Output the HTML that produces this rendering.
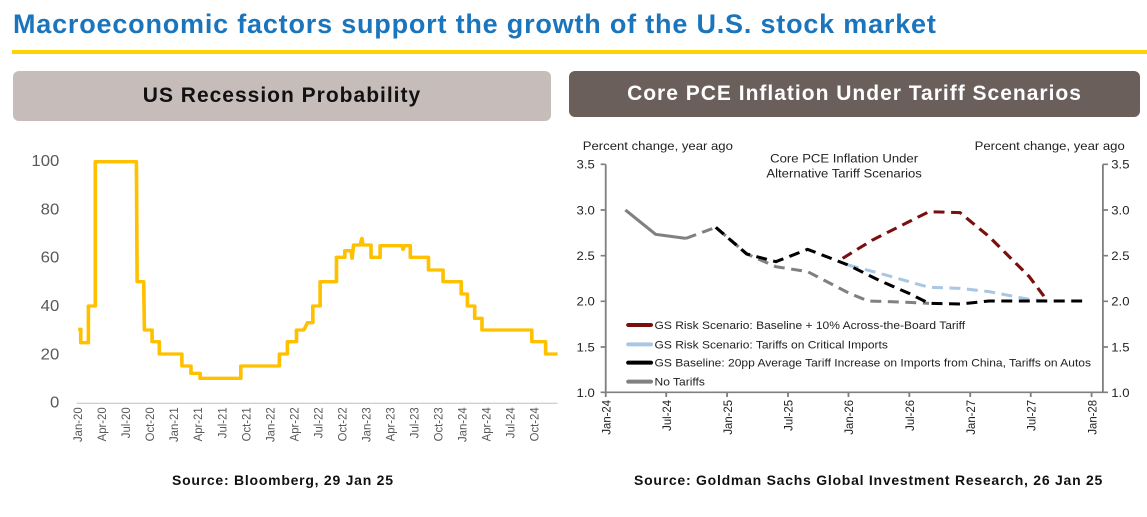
<!DOCTYPE html>
<html><head><meta charset="utf-8"><style>
body{margin:0;width:1147px;height:517px;background:#fff;position:relative;overflow:hidden;font-family:"Liberation Sans",sans-serif}
.h{position:absolute;left:13px;top:9px;font-size:27px;font-weight:bold;color:#1a75bc;letter-spacing:0.8px}
.yl{position:absolute;left:12px;top:50px;width:1135px;height:4px;background:#ffd200}
.box{position:absolute;border-radius:6px;font-weight:bold;font-size:21px;letter-spacing:1px;text-align:center}
.src{position:absolute;top:472px;font-size:14px;font-weight:bold;color:#111;letter-spacing:0.75px}
svg{position:absolute}
</style></head><body>
<div class="h">Macroeconomic factors support the growth of the U.S. stock market</div>
<div class="yl"></div>
<div class="box" style="left:13px;top:71px;width:538px;height:50px;line-height:50px;background:#c6bcba;color:#111">US Recession Probability</div>
<div class="box" style="left:569px;top:71px;width:571px;height:46px;line-height:46px;background:#6b5f5c;color:#fff">Core PCE Inflation Under Tariff Scenarios</div>

<svg style="left:0;top:130px" width="570" height="330" viewBox="0 0 1567 990" preserveAspectRatio="none">
<g font-family="Liberation Sans, sans-serif" fill="#595959" font-size="46" text-anchor="end">
<text x="163" y="108">100</text><text x="163" y="253">80</text><text x="163" y="398">60</text><text x="163" y="543">40</text><text x="163" y="688">20</text><text x="163" y="833">0</text>
</g>
<line x1="211" y1="820" x2="1533" y2="820" stroke="#d0d0d0" stroke-width="4"/>
<g font-family="Liberation Sans, sans-serif" fill="#595959" font-size="34" text-anchor="end">
<text transform="translate(226,832) rotate(-90)">Jan-20</text>
<text transform="translate(292,832) rotate(-90)">Apr-20</text>
<text transform="translate(358,832) rotate(-90)">Jul-20</text>
<text transform="translate(424,832) rotate(-90)">Oct-20</text>
<text transform="translate(490,832) rotate(-90)">Jan-21</text>
<text transform="translate(556,832) rotate(-90)">Apr-21</text>
<text transform="translate(622,832) rotate(-90)">Jul-21</text>
<text transform="translate(688,832) rotate(-90)">Oct-21</text>
<text transform="translate(754,832) rotate(-90)">Jan-22</text>
<text transform="translate(820,832) rotate(-90)">Apr-22</text>
<text transform="translate(886,832) rotate(-90)">Jul-22</text>
<text transform="translate(952,832) rotate(-90)">Oct-22</text>
<text transform="translate(1018,832) rotate(-90)">Jan-23</text>
<text transform="translate(1084,832) rotate(-90)">Apr-23</text>
<text transform="translate(1150,832) rotate(-90)">Jul-23</text>
<text transform="translate(1216,832) rotate(-90)">Oct-23</text>
<text transform="translate(1282,832) rotate(-90)">Jan-24</text>
<text transform="translate(1348,832) rotate(-90)">Apr-24</text>
<text transform="translate(1414,832) rotate(-90)">Jul-24</text>
<text transform="translate(1480,832) rotate(-90)">Oct-24</text>
</g>
<polyline fill="none" stroke="#ffc000" stroke-width="10" stroke-linejoin="round" points="215,598 222,598 222,638 243,638 243,528 262,528 262,95 375,95 377,455 395,455 397,600 418,600 418,635 438,635 438,672 500,672 500,708 525,708 525,730 550,730 550,745 662,745 662,708 768,708 768,672 790,672 790,635 815,635 815,600 835,600 840,590 845,578 860,578 860,528 880,528 880,455 925,455 925,382 948,382 948,362 965,362 968,385 972,345 990,345 995,325 998,345 1020,345 1020,382 1045,382 1045,347 1105,347 1108,358 1112,347 1128,347 1128,382 1178,382 1178,420 1218,420 1218,455 1268,455 1268,492 1285,492 1285,528 1305,528 1305,565 1325,565 1325,600 1462,600 1462,635 1500,635 1500,672 1533,672"/>
</svg>

<svg style="left:570px;top:130px" width="577" height="330" viewBox="0 0 1583 990" preserveAspectRatio="none">
<g font-family="Liberation Sans, sans-serif" fill="#222" font-size="36">
<text x="35" y="60">Percent change, year ago</text>
<text x="1522" y="60" text-anchor="end">Percent change, year ago</text>
<text x="752" y="97" text-anchor="middle">Core PCE Inflation Under</text>
<text x="752" y="143" text-anchor="middle">Alternative Tariff Scenarios</text>
<g text-anchor="end"><text x="68" y="116">3.5</text><text x="68" y="253">3.0</text><text x="68" y="390">2.5</text><text x="68" y="527">2.0</text><text x="68" y="664">1.5</text><text x="68" y="801">1.0</text></g>
<g><text x="1485" y="116">3.5</text><text x="1485" y="253">3.0</text><text x="1485" y="390">2.5</text><text x="1485" y="527">2.0</text><text x="1485" y="664">1.5</text><text x="1485" y="801">1.0</text></g>
<g text-anchor="end" font-size="34">
<text transform="translate(111,810) rotate(-90)">Jan-24</text>
<text transform="translate(277,810) rotate(-90)">Jul-24</text>
<text transform="translate(444,810) rotate(-90)">Jan-25</text>
<text transform="translate(611,810) rotate(-90)">Jul-25</text>
<text transform="translate(777,810) rotate(-90)">Jan-26</text>
<text transform="translate(944,810) rotate(-90)">Jul-26</text>
<text transform="translate(1111,810) rotate(-90)">Jan-27</text>
<text transform="translate(1277,810) rotate(-90)">Jul-27</text>
<text transform="translate(1444,810) rotate(-90)">Jan-28</text>
</g>
</g>
<g stroke="#7f7f7f" stroke-width="5" fill="none">
<polyline points="98,103 98,787 1462,787 1462,103"/>
<path d="M84,103h14M84,240h14M84,377h14M84,514h14M84,651h14M84,787h14M1462,103h14M1462,240h14M1462,377h14M1462,514h14M1462,651h14M1462,787h14M98,787v14M264,787v14M431,787v14M598,787v14M764,787v14M931,787v14M1098,787v14M1264,787v14M1431,787v14"/>
</g>
<polyline fill="none" stroke="#808080" stroke-width="9" points="152,240 235,313 318,325"/>
<polyline fill="none" stroke="#808080" stroke-width="9" stroke-dasharray="30,18" points="318,325 400,292 485,372 565,410 652,425 763,488 818,513 930,517 985,520"/>
<polyline fill="none" stroke="#a9c6e3" stroke-width="9" stroke-dasharray="30,18" points="763,405 850,430 985,472 1070,475 1150,485 1260,508 1310,513 1405,513"/>
<polyline fill="none" stroke="#7b0f0f" stroke-width="9" stroke-dasharray="30,18" points="748,385 830,330 930,275 985,245 1070,248 1150,320 1260,440 1310,513"/>
<polyline fill="none" stroke="#000" stroke-width="9" stroke-dasharray="30,18" points="400,292 485,372 565,395 652,358 763,405 850,452 930,490 985,520 1070,522 1150,513 1260,513 1405,513"/>
<g stroke-width="12" stroke-linecap="round">
<line x1="160" y1="585" x2="222" y2="585" stroke="#7b0f0f"/>
<line x1="160" y1="643" x2="222" y2="643" stroke="#a9c6e3"/>
<line x1="160" y1="698" x2="222" y2="698" stroke="#000"/>
<line x1="160" y1="755" x2="222" y2="755" stroke="#808080"/>
</g>
<g font-family="Liberation Sans, sans-serif" fill="#222" font-size="33">
<text x="232" y="597">GS Risk Scenario: Baseline + 10% Across-the-Board Tariff</text>
<text x="232" y="655">GS Risk Scenario: Tariffs on Critical Imports</text>
<text x="232" y="710">GS Baseline: 20pp Average Tariff Increase on Imports from China, Tariffs on Autos</text>
<text x="232" y="767">No Tariffs</text>
</g>
</svg>

<div class="src" style="left:172px">Source: Bloomberg, 29 Jan 25</div>
<div class="src" style="left:634px">Source: Goldman Sachs Global Investment Research, 26 Jan 25</div>
</body></html>
